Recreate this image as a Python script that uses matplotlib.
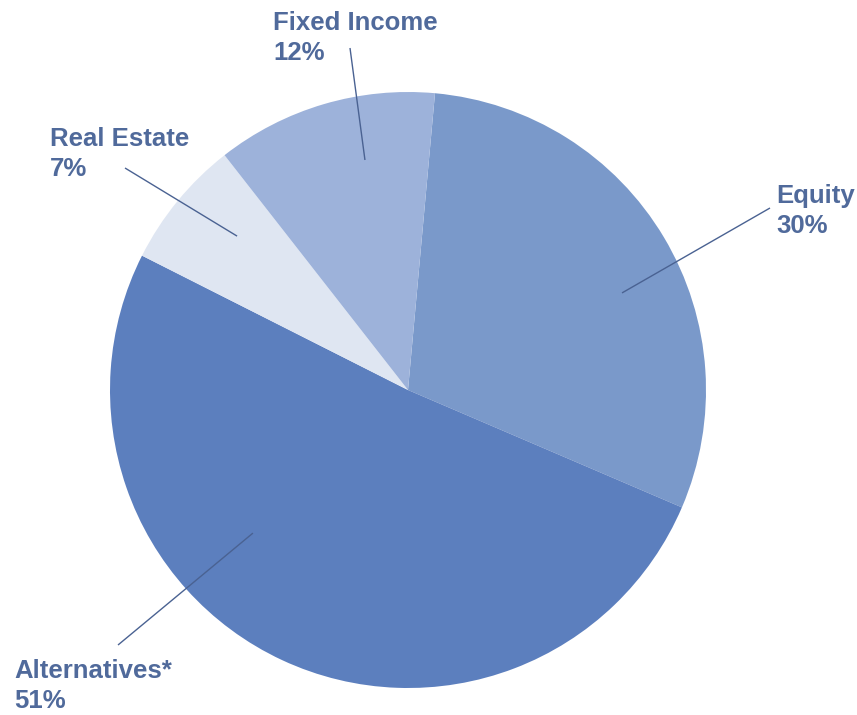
import numpy as np
import matplotlib.pyplot as plt

# Asset allocation, clockwise from the top
categories = ["Equity", "Alternatives*", "Real Estate", "Fixed Income"]
shares = [30, 51, 7, 12]
colors = ["#7a99ca", "#5c7fbe", "#dfe6f2", "#9db2da"]

TEXT_COLOR = "#506a9b"
LINE_COLOR = "#4a6292"

W, H = 857, 715
CENTER = (408, H - 390)
RADIUS = 298

# label placement (pixel units, y from the top) and leader line geometry:
# inner end given as (angle in degrees, distance from centre), outer end in pixels
label_pos = {
    "Equity": (776, 211),
    "Alternatives*": (14, 686),
    "Real Estate": (50, 154),
    "Fixed Income": (273, 38),
}
leader_inner = {
    "Equity": (24.4, 235),
    "Alternatives*": (-137.3, 211),
    "Real Estate": (138.0, 230),
    "Fixed Income": (100.6, 234),
}
leader_outer = {
    "Equity": (770, 208),
    "Alternatives*": (118, 645),
    "Real Estate": (125, 168),
    "Fixed Income": (350, 48),
}

fig = plt.figure(figsize=(W / 100, H / 100), dpi=100, facecolor="white")
ax = fig.add_axes([0, 0, 1, 1])

ax.pie(
    shares,
    colors=colors,
    startangle=84.8,
    counterclock=False,
    center=CENTER,
    radius=RADIUS,
    wedgeprops={"linewidth": 0},
)
ax.set_xlim(0, W)
ax.set_ylim(0, H)
ax.set_aspect("equal")
ax.axis("off")

for name, share in zip(categories, shares):
    ang, r = leader_inner[name]
    x0 = CENTER[0] + r * np.cos(np.radians(ang))
    y0 = CENTER[1] + r * np.sin(np.radians(ang))
    x1, y1 = leader_outer[name]
    ax.plot([x0, x1], [y0, H - y1], color=LINE_COLOR, lw=1.0, solid_capstyle="butt")

    tx, ty = label_pos[name]
    ax.text(
        tx, H - ty, f"{name}\n{share}%",
        ha="left", va="center",
        fontsize=18.5, fontweight="bold",
        family="Liberation Sans", color=TEXT_COLOR,
        linespacing=1.32,
    )

fig.savefig("out.png", dpi=100, facecolor="white")
